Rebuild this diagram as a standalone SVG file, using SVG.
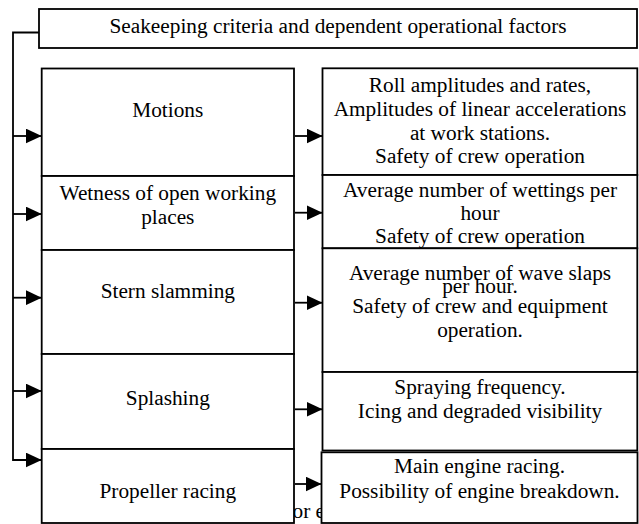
<svg xmlns="http://www.w3.org/2000/svg" width="639" height="524" viewBox="0 0 639 524">
<style>
.b{fill:#fff;stroke:#000;stroke-width:1.8}
.t{font-family:"Liberation Serif","Times New Roman",serif;font-size:21.3px;fill:#000;text-anchor:middle}
.c{fill:none;stroke:#000;stroke-width:1.8}
</style>
<defs>
<marker id="ah" markerWidth="16" markerHeight="15" refX="16" refY="7.5" orient="auto" markerUnits="userSpaceOnUse">
<path d="M0,0 L16,7.5 L0,15 Z" fill="#000"/>
</marker>
</defs>
<rect width="639" height="524" fill="#fff"/>
<text x="292.5" y="518" class="t" style="text-anchor:start">or e</text>
<g id="top">
<rect class="b" x="39" y="9" width="598" height="39"/>
<text class="t" x="338" y="32.5">Seakeeping criteria and dependent operational factors</text>
</g>
<g id="motions">
<rect class="b" x="41.7" y="68.5" width="252.3" height="107.5"/>
<text class="t" x="167.8" y="116.5">Motions</text>
</g>
<g id="wetness">
<rect class="b" x="41.7" y="176" width="252.3" height="74"/>
<text class="t" x="167.8" y="200">Wetness of open working</text>
<text class="t" x="167.8" y="223.5">places</text>
</g>
<g id="stern">
<rect class="b" x="41.7" y="250" width="252.3" height="104"/>
<text class="t" x="167.8" y="297.7">Stern slamming</text>
</g>
<g id="splashing">
<rect class="b" x="41.7" y="354" width="252.3" height="95"/>
<text class="t" x="167.8" y="405">Splashing</text>
</g>
<g id="propeller">
<rect class="b" x="41.7" y="449" width="252.3" height="74"/>
<text class="t" x="167.8" y="498.3">Propeller racing</text>
</g>
<g id="r-motions">
<rect class="b" x="322.5" y="68.3" width="314.8" height="106.7"/>
<text class="t" x="480" y="92">Roll amplitudes and rates,</text>
<text class="t" x="480" y="115.5">Amplitudes of linear accelerations</text>
<text class="t" x="480" y="139.5">at work stations.</text>
<text class="t" x="480" y="163">Safety of crew operation</text>
</g>
<g id="r-wetness">
<rect class="b" x="322.5" y="175" width="314.8" height="73.3"/>
<text class="t" x="480" y="196.7">Average number of wettings per</text>
<text class="t" x="480" y="220">hour</text>
<text class="t" x="480" y="243.3">Safety of crew operation</text>
</g>
<g id="r-stern">
<rect class="b" x="322.5" y="248.3" width="314.8" height="123.7"/>
<text class="t" x="480" y="280">Average number of wave slaps</text>
<text class="t" x="480" y="292.5">per hour.</text>
<text class="t" x="480" y="313">Safety of crew and equipment</text>
<text class="t" x="480" y="337">operation.</text>
</g>
<g id="r-spray">
<rect class="b" x="322.5" y="372" width="314.8" height="78.5"/>
<text class="t" x="480" y="394.3">Spraying frequency.</text>
<text class="t" x="480" y="418.3">Icing and degraded visibility</text>
</g>
<g id="r-engine">
<rect class="b" x="321.5" y="452.3" width="316" height="70.7"/>
<text class="t" x="479.5" y="473.3">Main engine racing.</text>
<text class="t" x="479.5" y="498.3">Possibility of engine breakdown.</text>
</g>
<g id="connectors">
<path class="c" d="M39,32.5 H13 V460 H41.7" marker-end="url(#ah)"/>
<path class="c" d="M13,136 H41.7" marker-end="url(#ah)"/>
<path class="c" d="M13,214 H41.7" marker-end="url(#ah)"/>
<path class="c" d="M13,297.7 H41.7" marker-end="url(#ah)"/>
<path class="c" d="M13,391 H41.7" marker-end="url(#ah)"/>
<path class="c" d="M295,136 H322.5" marker-end="url(#ah)"/>
<path class="c" d="M295,212.7 H322.5" marker-end="url(#ah)"/>
<path class="c" d="M295,302.7 H322.5" marker-end="url(#ah)"/>
<path class="c" d="M295,409.3 H322.5" marker-end="url(#ah)"/>
<path class="c" d="M295,484 H321.5" marker-end="url(#ah)"/>
</g>
</svg>
